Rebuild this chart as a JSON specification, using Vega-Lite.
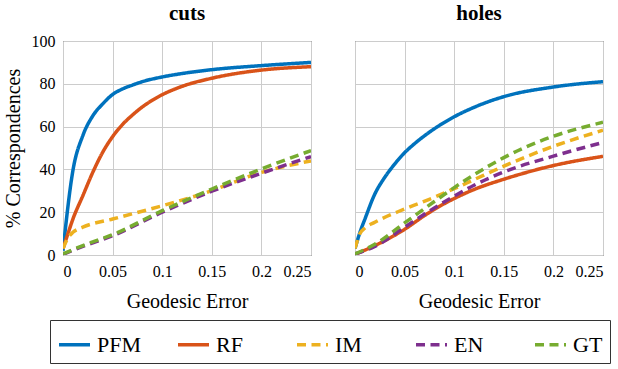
{
  "$schema": "https://vega.github.io/schema/vega-lite/v6.json",
  "padding": {"left": 3, "top": 3, "right": 5, "bottom": 2},
  "background": "white",
  "data": {"values": [
    {"panel":"cuts","method":"PFM","x":0,"y":2},
    {"panel":"cuts","method":"PFM","x":0.01,"y":39.5},
    {"panel":"cuts","method":"PFM","x":0.02,"y":55.8},
    {"panel":"cuts","method":"PFM","x":0.03,"y":65},
    {"panel":"cuts","method":"PFM","x":0.04,"y":70.6},
    {"panel":"cuts","method":"PFM","x":0.05,"y":75},
    {"panel":"cuts","method":"PFM","x":0.06,"y":77.6},
    {"panel":"cuts","method":"PFM","x":0.07,"y":79.4},
    {"panel":"cuts","method":"PFM","x":0.08,"y":81},
    {"panel":"cuts","method":"PFM","x":0.1,"y":83.2},
    {"panel":"cuts","method":"PFM","x":0.12,"y":84.8},
    {"panel":"cuts","method":"PFM","x":0.15,"y":86.6},
    {"panel":"cuts","method":"PFM","x":0.2,"y":88.5},
    {"panel":"cuts","method":"PFM","x":0.25,"y":90},
    {"panel":"cuts","method":"RF","x":0,"y":3},
    {"panel":"cuts","method":"RF","x":0.005,"y":10},
    {"panel":"cuts","method":"RF","x":0.01,"y":16.8},
    {"panel":"cuts","method":"RF","x":0.02,"y":27.7},
    {"panel":"cuts","method":"RF","x":0.03,"y":38.6},
    {"panel":"cuts","method":"RF","x":0.04,"y":48},
    {"panel":"cuts","method":"RF","x":0.05,"y":55.3},
    {"panel":"cuts","method":"RF","x":0.06,"y":61},
    {"panel":"cuts","method":"RF","x":0.07,"y":65.4},
    {"panel":"cuts","method":"RF","x":0.08,"y":69.2},
    {"panel":"cuts","method":"RF","x":0.09,"y":72.3},
    {"panel":"cuts","method":"RF","x":0.1,"y":74.9},
    {"panel":"cuts","method":"RF","x":0.12,"y":78.8},
    {"panel":"cuts","method":"RF","x":0.15,"y":82.6},
    {"panel":"cuts","method":"RF","x":0.2,"y":86.4},
    {"panel":"cuts","method":"RF","x":0.25,"y":88},
    {"panel":"cuts","method":"IM","x":0,"y":3},
    {"panel":"cuts","method":"IM","x":0.005,"y":8},
    {"panel":"cuts","method":"IM","x":0.01,"y":10.6},
    {"panel":"cuts","method":"IM","x":0.02,"y":13},
    {"panel":"cuts","method":"IM","x":0.05,"y":16.8},
    {"panel":"cuts","method":"IM","x":0.1,"y":23},
    {"panel":"cuts","method":"IM","x":0.14,"y":28.5},
    {"panel":"cuts","method":"IM","x":0.2,"y":38.6},
    {"panel":"cuts","method":"IM","x":0.25,"y":44},
    {"panel":"cuts","method":"EN","x":0,"y":0.3},
    {"panel":"cuts","method":"EN","x":0.02,"y":4},
    {"panel":"cuts","method":"EN","x":0.05,"y":9},
    {"panel":"cuts","method":"EN","x":0.1,"y":20},
    {"panel":"cuts","method":"EN","x":0.15,"y":29.8},
    {"panel":"cuts","method":"EN","x":0.2,"y":38.2},
    {"panel":"cuts","method":"EN","x":0.25,"y":46},
    {"panel":"cuts","method":"GT","x":0,"y":0.5},
    {"panel":"cuts","method":"GT","x":0.02,"y":4.4},
    {"panel":"cuts","method":"GT","x":0.05,"y":9.5},
    {"panel":"cuts","method":"GT","x":0.1,"y":20.7},
    {"panel":"cuts","method":"GT","x":0.15,"y":30.8},
    {"panel":"cuts","method":"GT","x":0.2,"y":40.2},
    {"panel":"cuts","method":"GT","x":0.25,"y":48.8},
    {"panel":"holes","method":"PFM","x":0,"y":3},
    {"panel":"holes","method":"PFM","x":0.005,"y":10.6},
    {"panel":"holes","method":"PFM","x":0.01,"y":16.8},
    {"panel":"holes","method":"PFM","x":0.02,"y":28.5},
    {"panel":"holes","method":"PFM","x":0.03,"y":36.3},
    {"panel":"holes","method":"PFM","x":0.04,"y":42.5},
    {"panel":"holes","method":"PFM","x":0.05,"y":47.8},
    {"panel":"holes","method":"PFM","x":0.06,"y":52},
    {"panel":"holes","method":"PFM","x":0.07,"y":55.7},
    {"panel":"holes","method":"PFM","x":0.08,"y":59},
    {"panel":"holes","method":"PFM","x":0.1,"y":64.6},
    {"panel":"holes","method":"PFM","x":0.12,"y":69},
    {"panel":"holes","method":"PFM","x":0.15,"y":74},
    {"panel":"holes","method":"PFM","x":0.2,"y":78.5},
    {"panel":"holes","method":"PFM","x":0.25,"y":81},
    {"panel":"holes","method":"RF","x":0,"y":0.3},
    {"panel":"holes","method":"RF","x":0.02,"y":4.4},
    {"panel":"holes","method":"RF","x":0.03,"y":6.7},
    {"panel":"holes","method":"RF","x":0.05,"y":12},
    {"panel":"holes","method":"RF","x":0.07,"y":18.4},
    {"panel":"holes","method":"RF","x":0.09,"y":24},
    {"panel":"holes","method":"RF","x":0.1,"y":26.4},
    {"panel":"holes","method":"RF","x":0.12,"y":30.6},
    {"panel":"holes","method":"RF","x":0.15,"y":35.4},
    {"panel":"holes","method":"RF","x":0.2,"y":41.8},
    {"panel":"holes","method":"RF","x":0.25,"y":46.1},
    {"panel":"holes","method":"IM","x":0,"y":3},
    {"panel":"holes","method":"IM","x":0.005,"y":10},
    {"panel":"holes","method":"IM","x":0.01,"y":12.6},
    {"panel":"holes","method":"IM","x":0.02,"y":15.3},
    {"panel":"holes","method":"IM","x":0.05,"y":21.5},
    {"panel":"holes","method":"IM","x":0.08,"y":27},
    {"panel":"holes","method":"IM","x":0.1,"y":31},
    {"panel":"holes","method":"IM","x":0.12,"y":35.2},
    {"panel":"holes","method":"IM","x":0.15,"y":41.5},
    {"panel":"holes","method":"IM","x":0.2,"y":50.8},
    {"panel":"holes","method":"IM","x":0.25,"y":58.3},
    {"panel":"holes","method":"EN","x":0,"y":0.5},
    {"panel":"holes","method":"EN","x":0.02,"y":4},
    {"panel":"holes","method":"EN","x":0.05,"y":13},
    {"panel":"holes","method":"EN","x":0.08,"y":22},
    {"panel":"holes","method":"EN","x":0.1,"y":27.5},
    {"panel":"holes","method":"EN","x":0.12,"y":32.6},
    {"panel":"holes","method":"EN","x":0.15,"y":38.8},
    {"panel":"holes","method":"EN","x":0.2,"y":46.2},
    {"panel":"holes","method":"EN","x":0.25,"y":52.6},
    {"panel":"holes","method":"GT","x":0,"y":0.5},
    {"panel":"holes","method":"GT","x":0.02,"y":5},
    {"panel":"holes","method":"GT","x":0.05,"y":15},
    {"panel":"holes","method":"GT","x":0.08,"y":25},
    {"panel":"holes","method":"GT","x":0.1,"y":31.5},
    {"panel":"holes","method":"GT","x":0.12,"y":37.5},
    {"panel":"holes","method":"GT","x":0.15,"y":45.5},
    {"panel":"holes","method":"GT","x":0.2,"y":55.5},
    {"panel":"holes","method":"GT","x":0.25,"y":62}
  ]},
  "facet": {"column": {"field": "panel", "type": "nominal", "sort": ["cuts", "holes"],
    "header": {"title": null, "labelFontSize": 21, "labelFontWeight": "bold", "labelFont": "serif", "labelColor": "black", "labelPadding": 17}}},
  "spacing": {"column": 44},
  "bounds": "flush",
  "spec": {
    "width": 248,
    "height": 214,
    "mark": {"type": "line", "strokeWidth": 3.5, "interpolate": "monotone", "clip": true},
    "encoding": {
      "x": {"field": "x", "type": "quantitative", "title": "Geodesic Error",
        "scale": {"domain": [0, 0.25], "nice": false},
        "axis": {"values": [0, 0.05, 0.1, 0.15, 0.2, 0.25], "format": "~g"}},
      "y": {"field": "y", "type": "quantitative", "title": "% Correspondences",
        "scale": {"domain": [0, 100], "nice": false},
        "axis": {"values": [0, 20, 40, 60, 80, 100]}},
      "color": {"field": "method", "type": "nominal",
        "scale": {"domain": ["PFM", "RF", "IM", "EN", "GT"], "range": ["#0072BD", "#D95319", "#EDB120", "#7E2F8E", "#77AC30"]},
        "legend": {"title": null, "orient": "none", "legendX": -13, "legendY": 279}},
      "strokeDash": {"field": "method", "type": "nominal",
        "scale": {"domain": ["PFM", "RF", "IM", "EN", "GT"], "range": [[1, 0], [1, 0], [9, 5.5], [9, 5.5], [9, 5.5]]},
        "legend": {"title": null, "orient": "none", "legendX": -13, "legendY": 279}},
      "order": {"field": "x", "type": "quantitative"}
    }
  },
  "config": {
    "font": "serif",
    "view": {"stroke": "#262626", "strokeWidth": 1},
    "axisX": {
      "domain": false, "grid": true, "gridColor": "#cccccc", "ticks": false,
      "labelFont": "serif", "labelFontSize": 16, "labelColor": "black", "labelPadding": 8,
      "titleFont": "serif", "titleFontSize": 20, "titleFontWeight": "normal", "titleColor": "black", "titlePadding": 12
    },
    "axisY": {
      "domain": false, "grid": true, "gridColor": "#cccccc", "ticks": false,
      "labelFont": "serif", "labelFontSize": 16, "labelColor": "black", "labelPadding": 8,
      "titleFont": "serif", "titleFontSize": 20, "titleFontWeight": "normal", "titleColor": "black", "titlePadding": 8
    },
    "legend": {
      "direction": "horizontal",
      "symbolType": "stroke",
      "symbolSize": 961,
      "symbolStrokeWidth": 3.5,
      "labelFont": "serif",
      "labelFontSize": 22,
      "labelColor": "black",
      "labelOffset": 5,
      "columnPadding": 29,
      "gridAlign": "all",
      "padding": 7,
      "strokeColor": "#333333",
      "strokeWidth": 1
    }
  }
}
